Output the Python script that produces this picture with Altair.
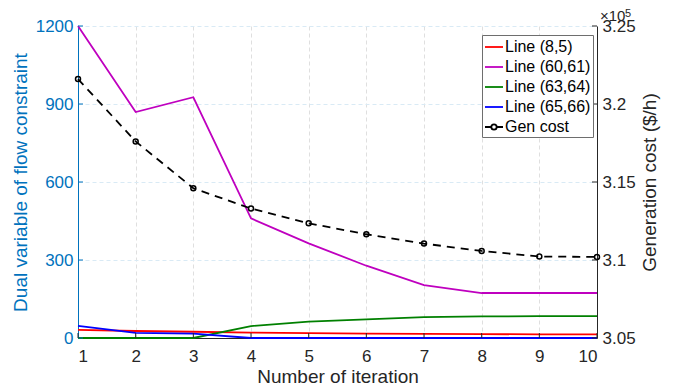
import altair as alt
import pandas as pd

# ---------------- data ----------------
iterations = [1, 2, 3, 4, 5, 6, 7, 8, 9, 10]
series_names = ["Line (8,5)", "Line (60,61)", "Line (63,64)", "Line (65,66)", "Gen cost"]
series_colors = ["#FF0000", "#BF00BF", "#008000", "#0000FF", "#000000"]
line_8_5 = [31, 27, 24, 21, 19, 17, 16, 15, 14, 14]
line_60_61 = [1200, 869, 926, 460, 364, 278, 203, 173, 173, 173]
line_63_64 = [0, 0, 0, 46, 63, 72, 80, 83, 84, 84]
line_65_66 = [47, 20, 17, 0, 0, 0, 0, 0, 0, 0]
gen_cost = [321600, 317600, 314600, 313300, 312350, 311650, 311050, 310580, 310220, 310200]
left_ticks = [0, 300, 600, 900, 1200]
right_ticks = [305000, 310000, 315000, 320000, 325000]
x_title = "Number of iteration"
left_title = "Dual variable of flow constraint"
right_title = "Generation cost ($/h)"
exp_base = ["×10"]
exp_power = ["5"]

# ---------------- styling ----------------
FONT = "Liberation Sans"
BLUE = "#0072BD"
DARK = "#262626"
W, H = 519, 312

lines_df = pd.DataFrame({
    "iter": iterations * 4,
    "value": line_8_5 + line_60_61 + line_63_64 + line_65_66,
    "series": sum([[n] * len(iterations) for n in series_names[:4]], []),
})
cost_df = pd.DataFrame({"iter": iterations, "cost": gen_cost, "series": "Gen cost"})
xt_df = pd.DataFrame({"iter": iterations})
lt_df = pd.DataFrame({"value": left_ticks})
rt_df = pd.DataFrame({"cost": right_ticks})

x_enc = alt.X(
    "iter:Q",
    scale=alt.Scale(domain=[1, 10], nice=False, zero=False),
    axis=alt.Axis(
        values=iterations, format="d", title=x_title,
        labelFontSize=17, titleFontSize=19, labelColor=DARK, titleColor=DARK,
        domainColor=DARK, ticks=False, labelPadding=23, labelBaseline="alphabetic",
        grid=True, gridColor="#dfdfdf", gridDash=[4, 3],
        titleX=W / 2, titleY=44, titleBaseline="alphabetic", titleFontWeight="normal",
    ),
)

y_left = alt.Y(
    "value:Q",
    scale=alt.Scale(domain=[0, 1200], nice=False),
    axis=alt.Axis(
        orient="left", values=left_ticks, format="d", title=left_title,
        labelFontSize=17, titleFontSize=19, labelColor=BLUE, titleColor=BLUE,
        domainColor=BLUE, ticks=False, labelPadding=5,
        grid=True, gridColor="#d9eaf5", gridDash=[4, 3],
        titleX=-52, titleY=H / 2, titleAngle=270, titleBaseline="alphabetic",
        titleAlign="center", titleFontWeight="normal",
    ),
)

y_right = alt.Y(
    "cost:Q",
    scale=alt.Scale(domain=[305000, 325000], nice=False, zero=False),
    axis=alt.Axis(
        orient="right", values=right_ticks,
        labelExpr="format(datum.value / 100000, '.3~f')", title=right_title,
        labelFontSize=17, titleFontSize=19, labelColor=DARK, titleColor=DARK,
        domainColor=DARK, ticks=False, labelPadding=5, grid=False,
        titleX=58, titleY=H / 2, titleAngle=270, titleBaseline="alphabetic",
        titleAlign="center", titleFontWeight="normal",
    ),
)

legend = alt.Legend(
    title=None, orient="none", legendX=404, legendY=9,
    symbolType="stroke", symbolSize=324, symbolStrokeWidth=1.8,
    symbolFillColor="transparent",
    labelFontSize=16, labelFont=FONT, labelColor="#000000", labelOffset=1,
    rowPadding=2, padding=2, fillColor="white", strokeColor="#6e6e6e",
)

color_enc = alt.Color("series:N", scale=alt.Scale(domain=series_names, range=series_colors),
                      legend=legend)

gen_symbol = ("M-1,0L-0.3,0M0.3,0L1,0M0.3,0A0.3,0.3,0,1,1,-0.3,0"
              "A0.3,0.3,0,1,1,0.3,0")
shape_enc = alt.Shape("series:N",
                      scale=alt.Scale(domain=series_names,
                                      range=["stroke"] * 4 + [gen_symbol]),
                      legend=legend)

lines = alt.Chart(lines_df).mark_line(strokeWidth=1.8).encode(
    x=x_enc, y=y_left, color=color_enc)
left_tick_marks = alt.Chart(lt_df).mark_rule(color=BLUE, strokeWidth=1).encode(
    y=y_left, x=alt.value(0), x2=alt.value(5))
left_layer = alt.layer(lines, left_tick_marks)

cost_line = alt.Chart(cost_df).mark_line(strokeWidth=1.8, strokeDash=[8, 6]).encode(
    x=x_enc, y=y_right, color=color_enc)
cost_pts = alt.Chart(cost_df).mark_point(filled=False, size=25, strokeWidth=1.5, opacity=1).encode(
    x=x_enc, y=y_right, color=color_enc)
right_tick_marks = alt.Chart(rt_df).mark_rule(color=DARK, strokeWidth=1).encode(
    y=y_right, x=alt.value(W - 5), x2=alt.value(W))
right_layer = alt.layer(cost_line, cost_pts, right_tick_marks)

x_tick_marks = alt.Chart(xt_df).mark_rule(color=DARK, strokeWidth=1).encode(
    x=x_enc, y=alt.value(H), y2=alt.value(H - 5))

legend_helper = alt.Chart(cost_df).transform_filter("false").mark_point(
    filled=False, strokeWidth=1.8).encode(shape=shape_enc, color=color_enc)

exp_text = alt.Chart(pd.DataFrame({"t": exp_base})).mark_text(
    align="left", baseline="alphabetic", fontSize=15, color=DARK, font=FONT
).encode(x=alt.value(W + 3), y=alt.value(-5.5), text="t:N")
exp_pow = alt.Chart(pd.DataFrame({"t": exp_power})).mark_text(
    align="left", baseline="alphabetic", fontSize=11, color=DARK, font=FONT
).encode(x=alt.value(W + 28), y=alt.value(-9), text="t:N")

chart = alt.layer(
    left_layer, right_layer, x_tick_marks, legend_helper, exp_text, exp_pow
).resolve_scale(y="independent").properties(
    width=W, height=H,
    autosize=alt.AutoSizeParams(type="none"),
    padding={"left": 70, "top": 18, "right": 82, "bottom": 46},
).configure(font=FONT).configure_view(stroke=None)

chart.save("out.html", embed_options={"renderer": "svg", "actions": False})
